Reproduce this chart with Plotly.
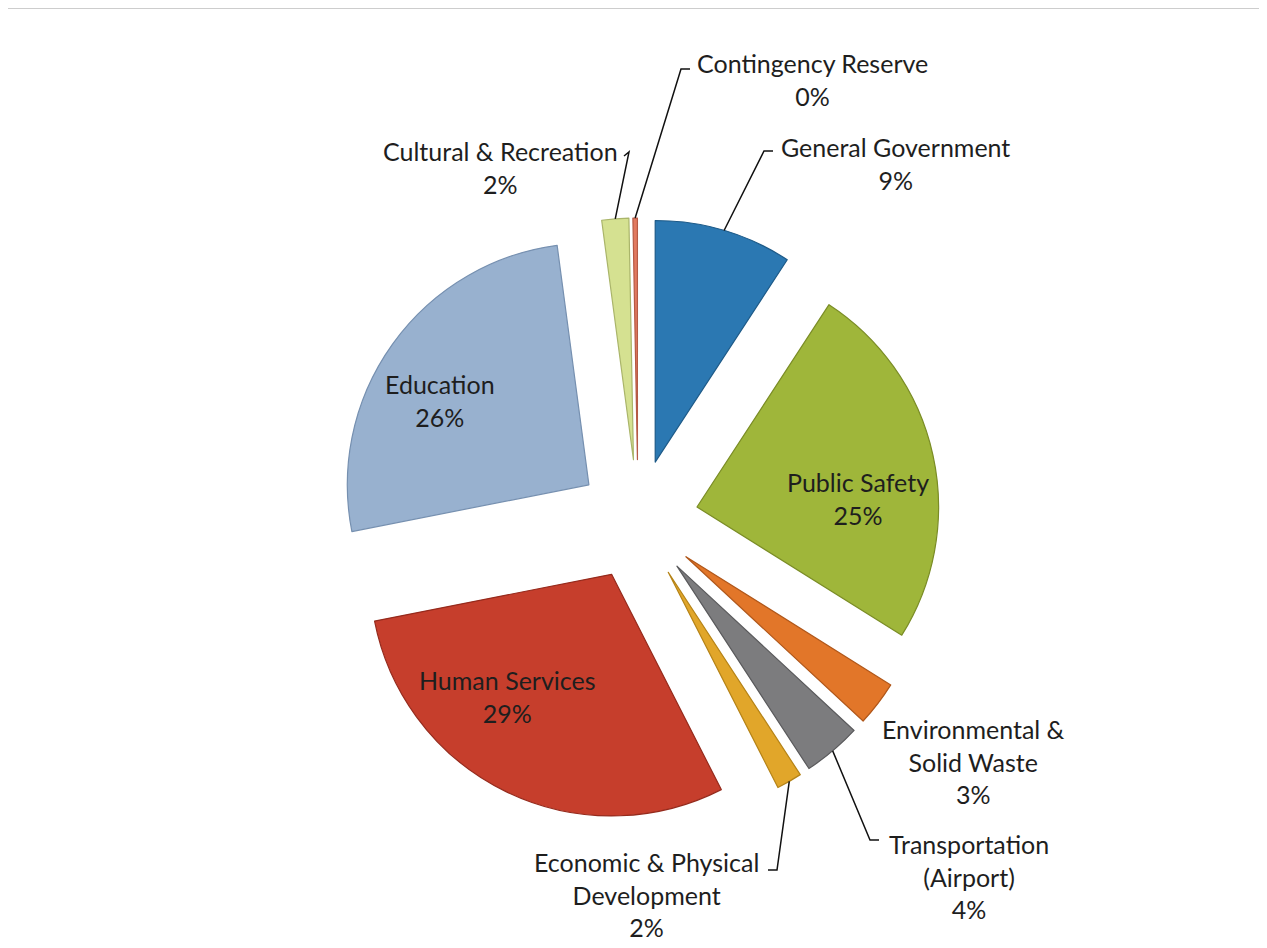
import math
import plotly.graph_objects as go

# ---------------- data ----------------
categories = ["General Government", "Public Safety", "Environmental & Solid Waste",
              "Transportation (Airport)", "Economic & Physical Development",
              "Human Services", "Education", "Cultural & Recreation", "Contingency Reserve"]
values = [9.2, 24.7, 3.0, 3.9, 1.7, 29.4, 26.0, 1.8, 0.3]
label_text = ["General Government<br>9%", "Public Safety<br>25%",
              "Environmental &<br>Solid Waste<br>3%", "Transportation<br>(Airport)<br>4%",
              "Economic & Physical<br>Development<br>2%", "Human Services<br>29%",
              "Education<br>26%", "Cultural & Recreation<br>2%", "Contingency Reserve<br>0%"]

colors = ["#2b78b2", "#9fb63a", "#e27629", "#7c7c7e", "#e1a62a",
          "#c63e2c", "#98b1cf", "#d5e191", "#e27a60"]
edge_colors = ["#1d5a88", "#7a8c25", "#b0571a", "#5a5a5c", "#b58317",
               "#952a1c", "#7690b0", "#aab56a", "#b55a45"]

# ---------------- layout / geometry (screen pixels) ----------------
W, H = 1267, 948
OFF = 8                    # page body margin offset
CX, CY = 638, 520          # pie centre on screen
HALF = 302                 # half size of pie domain
PULL = 0.25
R = HALF / (1 + PULL)      # plotly radius

def px(x, y):
    return (x - OFF) / W, 1 - (y - OFF) / H

dom_x = [px(CX - HALF, 0)[0], px(CX + HALF, 0)[0]]
dom_y = [px(0, CY + HALF)[1], px(0, CY - HALF)[1]]

total = sum(values)
mid_angles = []
acc = 0.0
for v in values:
    mid_angles.append((acc + v / 2) / total * 360.0)
    acc += v

def outer_point(i):
    a = math.radians(mid_angles[i])
    dx, dy = math.sin(a), -math.cos(a)
    return CX + (R * PULL + R) * dx, CY + (R * PULL + R) * dy

# label placement (text centre, screen pixels) and leader elbow points
label_pos = {
    0: (895, 163), 1: (858, 498), 2: (973, 761), 3: (969, 876), 4: (646, 894),
    5: (508, 696), 6: (440, 400), 7: (500, 167), 8: (812, 80),
}
leaders = {
    0: [(764, 151), (773, 151)],
    3: [(870, 840), (879, 840)],
    4: [(777, 870), (768, 870)],
    7: [(629, 152), (624, 156)],
    8: [(681, 69), (690, 69)],
}

fig = go.Figure()
fig.add_trace(go.Pie(
    labels=categories, values=values, sort=False, direction="clockwise", rotation=0,
    pull=[PULL] * len(values), textinfo="none", hoverinfo="label+percent",
    marker=dict(colors=colors, line=dict(color=edge_colors, width=1.2)),
    domain=dict(x=dom_x, y=dom_y), showlegend=False,
))

font = dict(family="Lato, 'Open Sans', sans-serif", size=25, color="#1e1e1e")
annotations = []
for i, t in enumerate(label_text):
    x, y = px(*label_pos[i])
    annotations.append(dict(x=x, y=y, xref="paper", yref="paper", text=t,
                            showarrow=False, xanchor="center", yanchor="middle",
                            align="center", font=font))

shapes = []
for i, pts in leaders.items():
    sx, sy = outer_point(i)
    path_pts = [(sx, sy)] + pts
    d = "M " + " L ".join(f"{px(a, b)[0]} {px(a, b)[1]}" for a, b in path_pts)
    shapes.append(dict(type="path", xref="paper", yref="paper", path=d,
                       line=dict(color="#111111", width=1.5)))

# frame lines (top and right)
fx0, fy0 = px(0, 8)
fx1, fy1 = px(1262, 948)
shapes.append(dict(type="line", xref="paper", yref="paper", x0=0, x1=fx1,
                   y0=fy0, y1=fy0, line=dict(color="#bdbdbd", width=1.5)))
shapes.append(dict(type="line", xref="paper", yref="paper", x0=fx1, x1=fx1,
                   y0=0, y1=fy0, line=dict(color="#d0d0d0", width=1.5)))

fig.update_layout(width=W, height=H, margin=dict(l=0, r=0, t=0, b=0),
                  paper_bgcolor="white", plot_bgcolor="white",
                  annotations=annotations, shapes=shapes)

fig.write_html("out.html")
